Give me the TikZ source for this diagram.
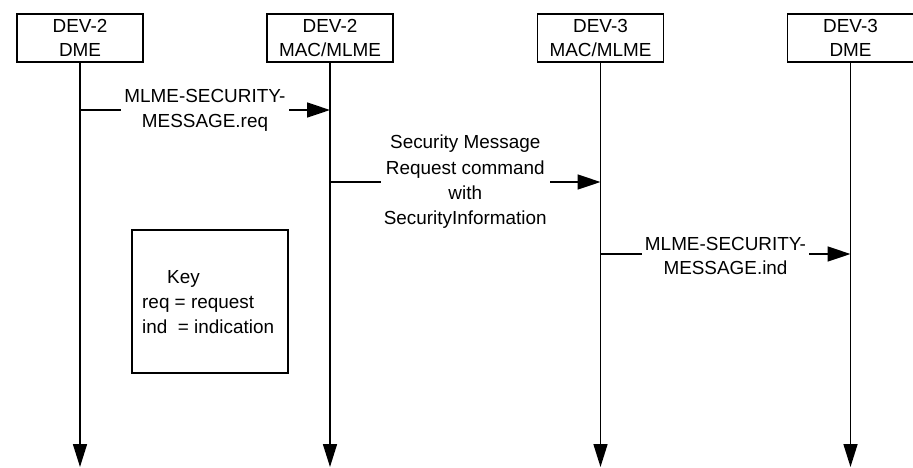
\documentclass[tikz,border=0pt]{standalone}
\usepackage{fontspec}
\setmainfont{Liberation Sans}
\usetikzlibrary{arrows.meta}
\begin{document}
\begin{tikzpicture}[x=1pt,y=-1pt,
  every node/.style={font=\fontsize{18.9}{23.4}\selectfont},
  entity/.style={draw, line width=1.6pt, minimum width=126pt, minimum height=48pt, inner sep=0pt, align=center},
  life/.style={line width=1.6pt, -{Triangle[length=23pt,width=14pt]}},
  msg/.style={line width=1.6pt, -{Triangle[length=23pt,width=15pt]}},
  lbl/.style={fill=white, align=center, inner sep=3pt},
  keybox/.style={draw, line width=1.6pt, minimum width=156pt, minimum height=143pt, inner sep=0pt}]
\useasboundingbox (0,0) rectangle (913,467);
% entities
\node[entity] (e1) at (80,38) {DEV-2\\DME};
\node[entity] (e2) at (330,38) {DEV-2\\MAC/MLME};
\node[entity] (e3) at (600.5,38) {DEV-3\\MAC/MLME};
\node[entity] (e4) at (850.5,38) {DEV-3\\DME};
% lifeline ends
\coordinate (b1) at (80,467);
\coordinate (b2) at (330,467);
\coordinate (b3) at (600.5,467);
\coordinate (b4) at (850.5,467);
\draw[life] (e1) -- (b1);
\draw[life] (e2) -- (b2);
\draw[life] (e3) -- (b3);
\draw[life] (e4) -- (b4);
% message points
\coordinate (m1a) at (80,110);
\coordinate (m1b) at (330,110);
\coordinate (m2a) at (330,182);
\coordinate (m2b) at (600.5,182);
\coordinate (m3a) at (600.5,254);
\coordinate (m3b) at (850.5,254);
\draw[msg] (m1a) -- node[lbl] (l1) {MLME-SECURITY-\\[1.5pt]MESSAGE.req} (m1b);
\draw[msg] (m2a) -- node[lbl] (l2) {Security Message\\[2pt]Request command\\[2pt]with\\[2pt]SecurityInformation} (m2b);
\draw[msg] (m3a) -- node[lbl, yshift=-2pt] (l3) {MLME-SECURITY-\\MESSAGE.ind} (m3b);
% key
\node[keybox] (key) at (210,301.5) {};
\node[anchor=west, align=left, inner sep=0pt] (keytext) at (142,302) {\hspace*{25pt}Key\\[1.5pt]req = request\\[1.5pt]ind\ \ = indication};
\end{tikzpicture}
\end{document}
